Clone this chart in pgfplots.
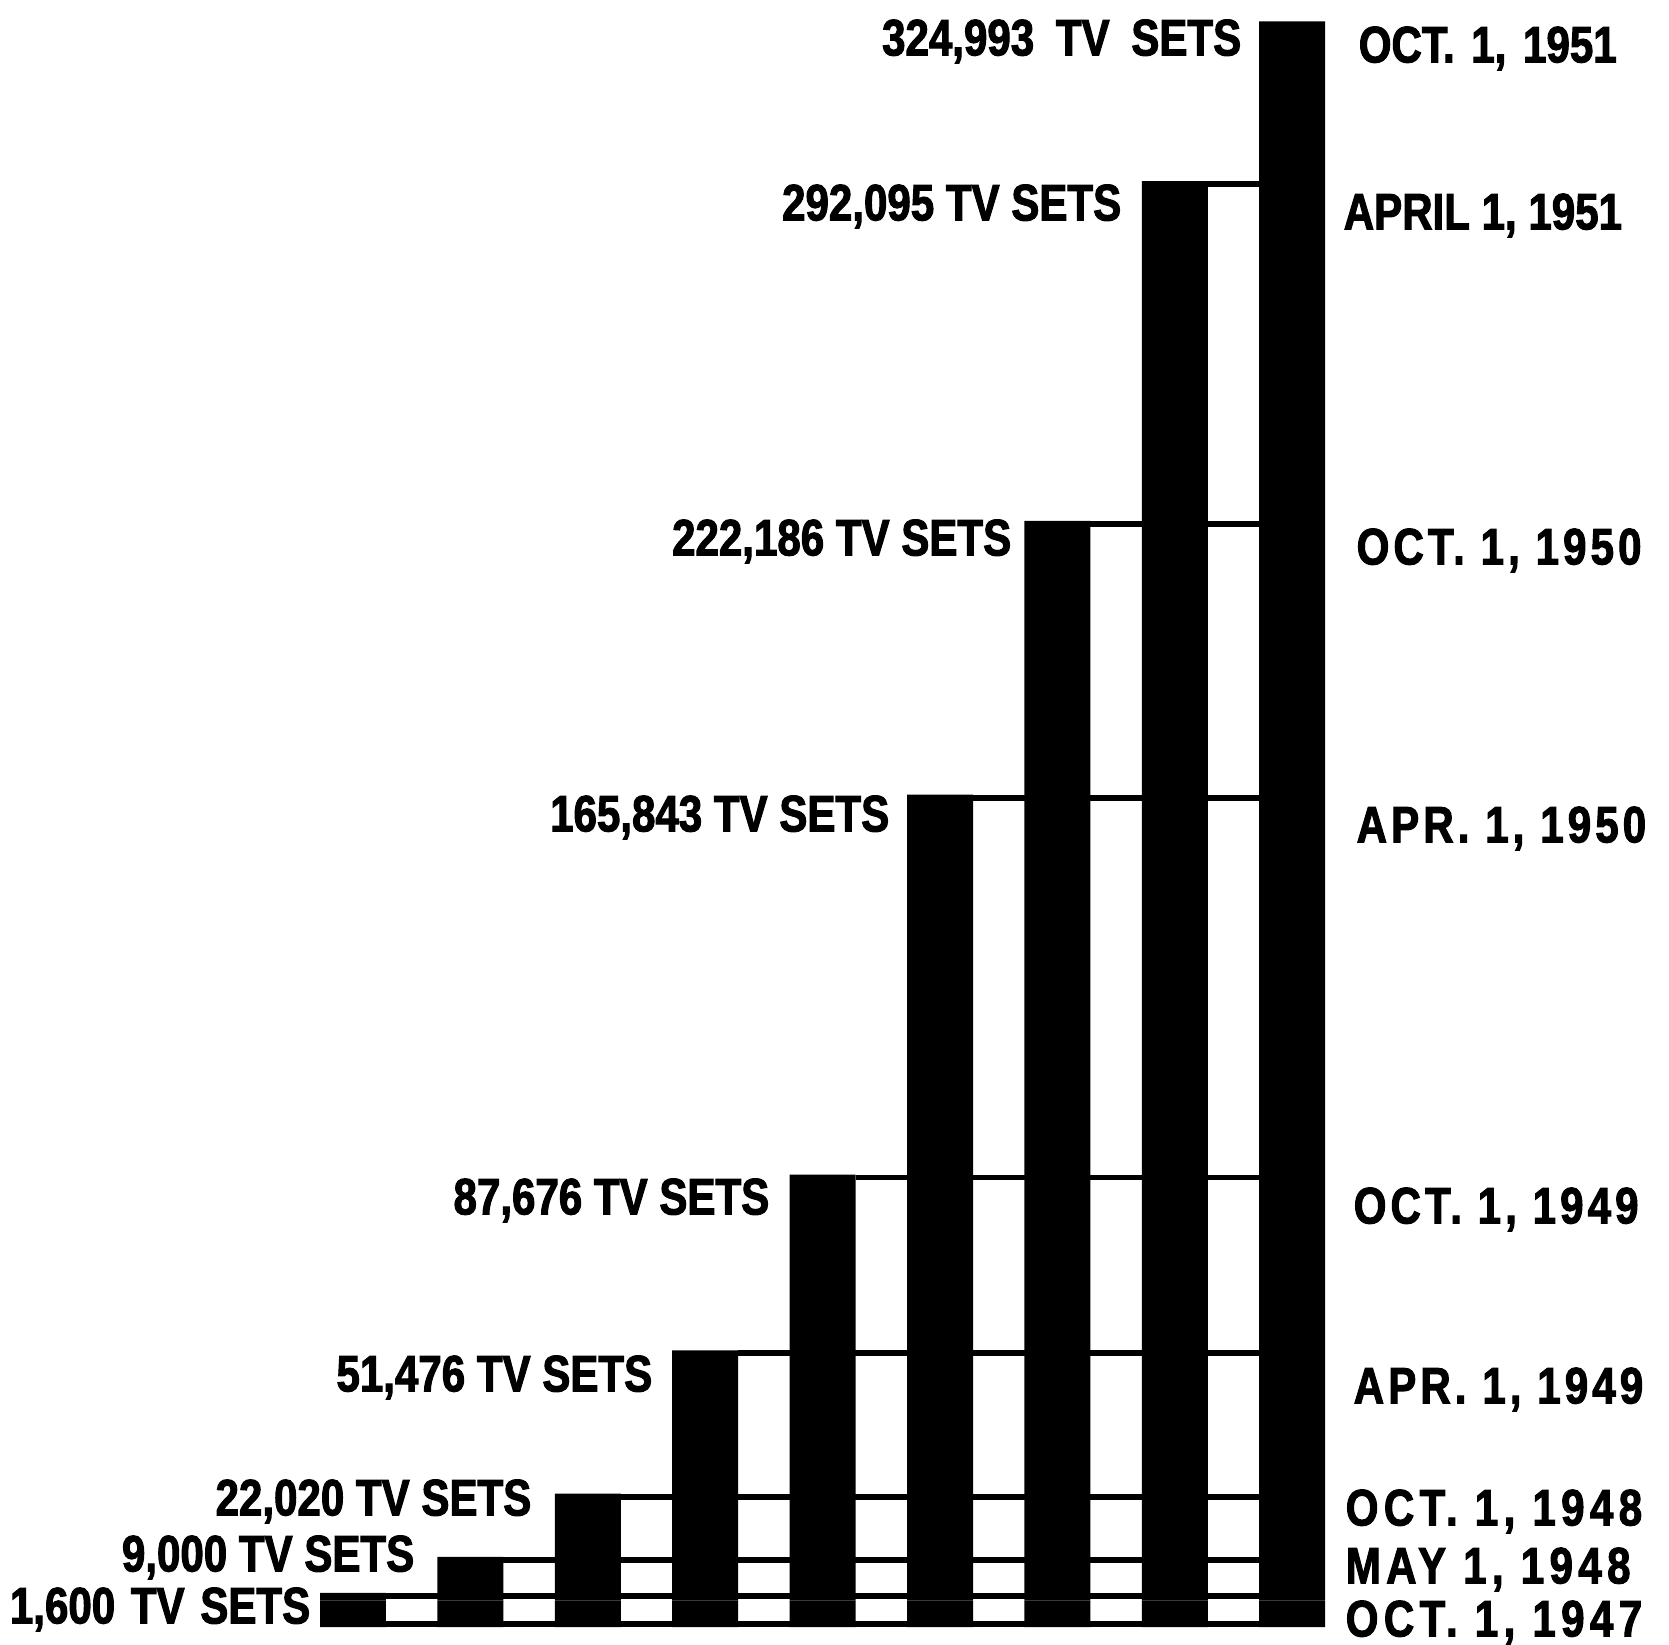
\documentclass[border=0pt]{standalone}
\usepackage{pgfplots}
\pgfplotsset{compat=1.18}
\usepackage{pgfplotstable}
\usepackage{fontspec}
\setmainfont{Liberation Sans}
\newfontfamily\lab{Liberation Sans}[FakeStretch=0.82, FakeBold=2]

% k = bar index, v = TV sets
\pgfplotstableread{
k v
0 1600
1 9000
2 22020
3 51476
4 87676
5 165843
6 222186
7 292095
8 324993
}\sets

\tikzset{
  L/.style={anchor=base east, inner sep=0pt, font={\lab\bfseries\fontsize{14.6}{16}\selectfont}},
  R/.style={anchor=base west, inner sep=0pt, font={\lab\bfseries\fontsize{14.6}{16}\selectfont}},
  RS/.style={anchor=base west, inner sep=0pt, font={\lab\bfseries\fontsize{14.6}{16}\selectfont\addfontfeature{LetterSpace=8}}},
  RT/.style={anchor=base west, inner sep=0pt, font={\lab\bfseries\fontsize{14.6}{16}\selectfont\addfontfeature{LetterSpace=10.5}}},
}

\begin{document}
\begin{tikzpicture}
\begin{axis}[
  at={(0,0)}, anchor=south west,
  width=16.69cm, height=16.44cm, scale only axis,
  xmin=-3.0068, xmax=11.2095,
  ymin=-8948, ymax=329387,
  axis lines=none, ticks=none, clip=false,
]
% bars (from zero up to value)
\addplot[ybar, bar width=0.562, bar shift=0pt, fill=black, draw=none] table[x=k, y=v] {\sets};
% bars continue below zero down to the drawn baseline
\addplot[ybar, bar width=0.562, bar shift=0pt, fill=black, draw=none] coordinates {
 (0,-5450) (1,-5450) (2,-5450) (3,-5450) (4,-5450) (5,-5450) (6,-5450) (7,-5450) (8,-5450)};
% thick base strip
\addplot[fill=black, draw=none] coordinates {(-0.281,-5450) (8.281,-5450) (8.281,-4215) (-0.281,-4215)} --cycle;
% level lines from each bar to the last bar
\addplot[black, line width=1.7pt, yshift=-0.85pt] coordinates {(0.281,1600) (7.719,1600)};
\addplot[black, line width=1.7pt, yshift=-0.85pt] coordinates {(1.281,9000) (7.719,9000)};
\addplot[black, line width=1.7pt, yshift=-0.85pt] coordinates {(2.281,22020) (7.719,22020)};
\addplot[black, line width=1.7pt, yshift=-0.85pt] coordinates {(3.281,51476) (7.719,51476)};
\addplot[black, line width=1.7pt, yshift=-0.85pt] coordinates {(4.281,87676) (7.719,87676)};
\addplot[black, line width=1.7pt, yshift=-0.85pt] coordinates {(5.281,165843) (7.719,165843)};
\addplot[black, line width=1.7pt, yshift=-0.85pt] coordinates {(6.281,222186) (7.719,222186)};
\addplot[black, line width=1.7pt, yshift=-0.85pt] coordinates {(7.281,292095) (7.719,292095)};

% left labels
\node[L] at (axis cs:7.572,317986) {324,993\hspace{1mm} TV\hspace{1mm} SETS};
\node[L] at (axis cs:6.550,284029) {292,095 TV SETS};
\node[L] at (axis cs:5.613,215086) {222,186 TV SETS};
\node[L] at (axis cs:4.574,158285) {165,843 TV SETS};
\node[L] at (axis cs:3.552,79463) {87,676 TV SETS};
\node[L] at (axis cs:2.555,43037) {51,476 TV SETS};
\node[L] at (axis cs:1.525,17518) {22,020 TV SETS};
\node[L] at (axis cs:0.528,5993) {9,000 TV SETS};
\node[L] at (axis cs:-0.358,-4709) {1,600\hspace{0.4mm} TV\hspace{0.4mm} SETS};

% right labels
\node[R] at (axis cs:8.561,316545) {OCT.\hspace{0.5mm} 1,\hspace{0.5mm} 1951};
\node[R] at (axis cs:8.433,282176) {APRIL 1, 1951};
\node[RS] at (axis cs:8.543,213234) {OCT. 1, 1950};
\node[RS] at (axis cs:8.543,156021) {APR. 1, 1950};
\node[RS] at (axis cs:8.518,77611) {OCT. 1, 1949};
\node[RS] at (axis cs:8.518,40567) {APR. 1, 1949};
\node[RT] at (axis cs:8.450,15460) {OCT. 1, 1948};
\node[RT] at (axis cs:8.450,3523) {MAY 1, 1948};
\node[RT] at (axis cs:8.450,-7384) {OCT. 1, 1947};
\end{axis}
\pgfresetboundingbox
\useasboundingbox (0,0) rectangle (16.69cm,16.44cm);
\end{tikzpicture}
\end{document}
